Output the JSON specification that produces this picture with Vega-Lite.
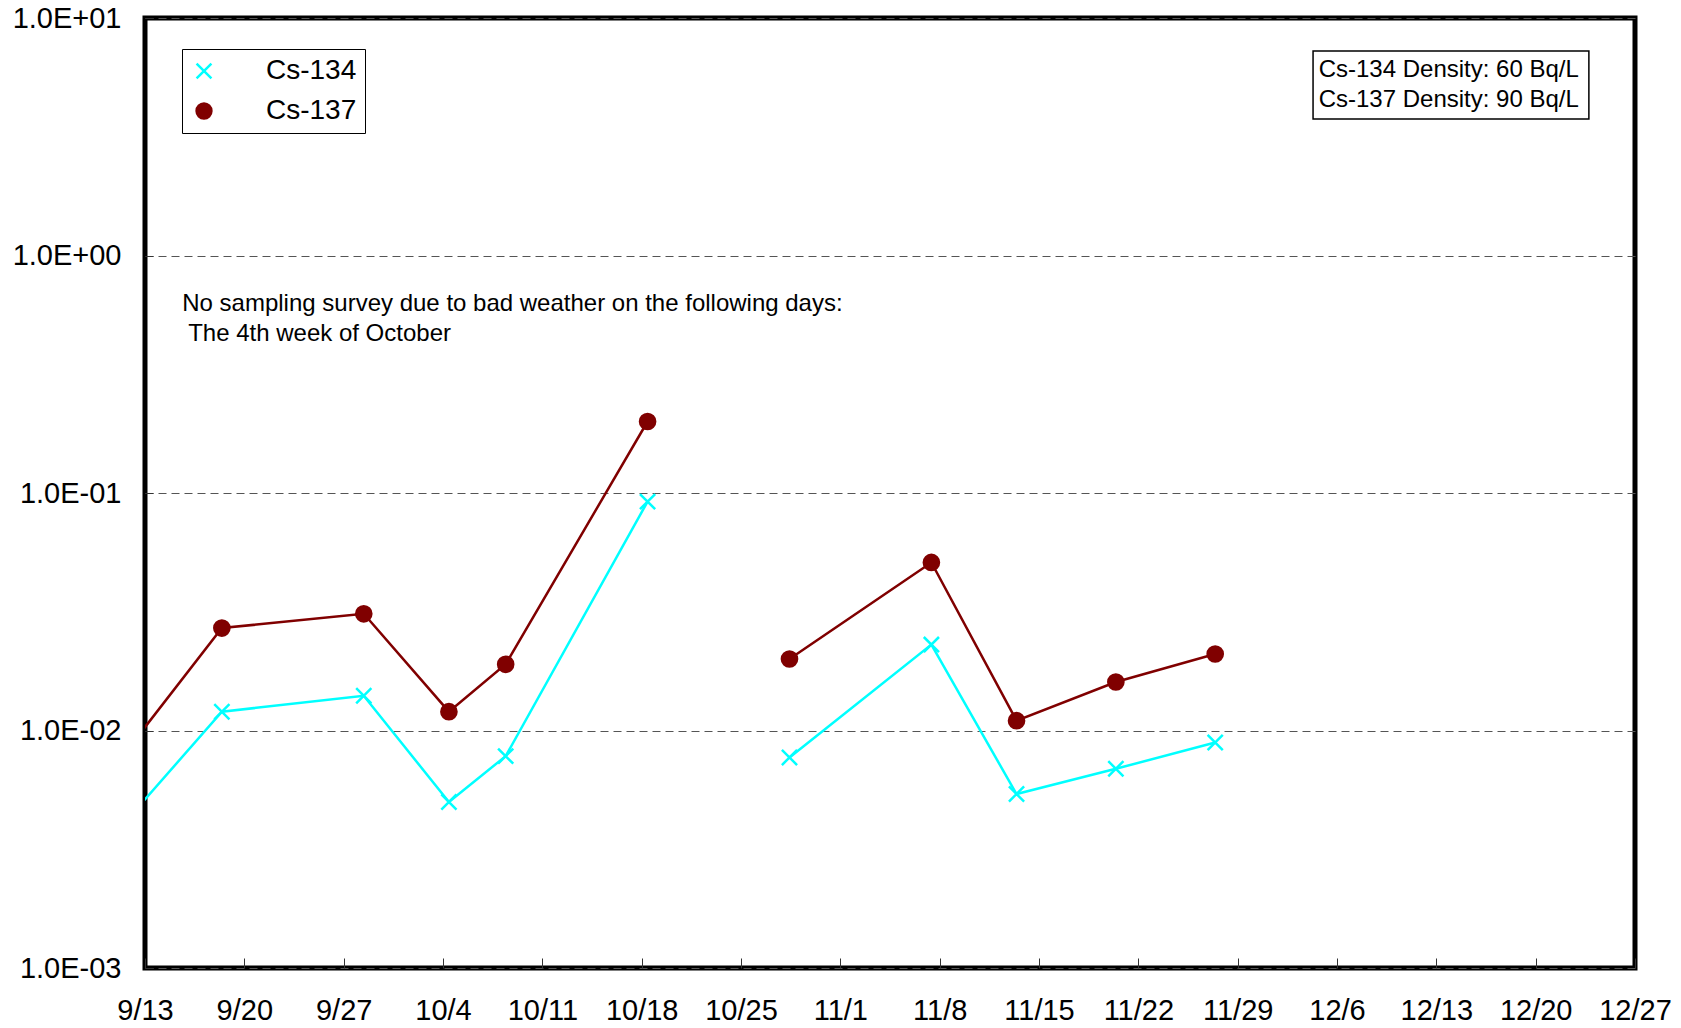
{
  "$schema": "https://vega.github.io/schema/vega-lite/v6.json",
  "width": 1490,
  "height": 950,
  "autosize": {"type": "none"},
  "padding": {"left": 145, "top": 18, "right": 46, "bottom": 60},
  "background": "white",
  "config": {
    "view": {"stroke": "black", "strokeWidth": 5},
    "font": "Liberation Sans",
    "legend": {
      "title": null,
      "orient": "none",
      "legendX": 37,
      "legendY": 31,
      "strokeColor": "black",
      "fillColor": "white",
      "padding": 8,
      "labelFontSize": 28,
      "labelFont": "Liberation Sans",
      "labelColor": "black",
      "symbolSize": 220,
      "symbolStrokeWidth": 2.5,
      "labelOffset": 48,
      "rowPadding": 12
    }
  },
  "data": {
    "values": [
      {"date": "2012-09-11T10:00", "nuclide": "Cs-134", "value": 0.0040, "seg": "a"},
      {"date": "2012-09-18T10:00", "nuclide": "Cs-134", "value": 0.012, "seg": "a"},
      {"date": "2012-09-28T10:00", "nuclide": "Cs-134", "value": 0.014, "seg": "a"},
      {"date": "2012-10-04T10:00", "nuclide": "Cs-134", "value": 0.0050, "seg": "a"},
      {"date": "2012-10-08T10:00", "nuclide": "Cs-134", "value": 0.0078, "seg": "a"},
      {"date": "2012-10-18T10:00", "nuclide": "Cs-134", "value": 0.092, "seg": "a"},
      {"date": "2012-10-28T10:00", "nuclide": "Cs-134", "value": 0.0077, "seg": "b"},
      {"date": "2012-11-07T10:00", "nuclide": "Cs-134", "value": 0.023, "seg": "b"},
      {"date": "2012-11-13T10:00", "nuclide": "Cs-134", "value": 0.0054, "seg": "b"},
      {"date": "2012-11-20T10:00", "nuclide": "Cs-134", "value": 0.0069, "seg": "b"},
      {"date": "2012-11-27T10:00", "nuclide": "Cs-134", "value": 0.0089, "seg": "b"},
      {"date": "2012-09-11T10:00", "nuclide": "Cs-137", "value": 0.0078, "seg": "a"},
      {"date": "2012-09-18T10:00", "nuclide": "Cs-137", "value": 0.027, "seg": "a"},
      {"date": "2012-09-28T10:00", "nuclide": "Cs-137", "value": 0.031, "seg": "a"},
      {"date": "2012-10-04T10:00", "nuclide": "Cs-137", "value": 0.012, "seg": "a"},
      {"date": "2012-10-08T10:00", "nuclide": "Cs-137", "value": 0.019, "seg": "a"},
      {"date": "2012-10-18T10:00", "nuclide": "Cs-137", "value": 0.20, "seg": "a"},
      {"date": "2012-10-28T10:00", "nuclide": "Cs-137", "value": 0.020, "seg": "b"},
      {"date": "2012-11-07T10:00", "nuclide": "Cs-137", "value": 0.051, "seg": "b"},
      {"date": "2012-11-13T10:00", "nuclide": "Cs-137", "value": 0.011, "seg": "b"},
      {"date": "2012-11-20T10:00", "nuclide": "Cs-137", "value": 0.016, "seg": "b"},
      {"date": "2012-11-27T10:00", "nuclide": "Cs-137", "value": 0.021, "seg": "b"}
    ]
  },
  "encoding": {
    "x": {
      "field": "date",
      "type": "temporal",
      "scale": {"domain": [{"year": 2012, "month": 9, "date": 13}, {"year": 2012, "month": 12, "date": 27}]},
      "axis": {
        "title": null,
        "values": [
          {"year": 2012, "month": 9, "date": 13},
          {"year": 2012, "month": 9, "date": 20},
          {"year": 2012, "month": 9, "date": 27},
          {"year": 2012, "month": 10, "date": 4},
          {"year": 2012, "month": 10, "date": 11},
          {"year": 2012, "month": 10, "date": 18},
          {"year": 2012, "month": 10, "date": 25},
          {"year": 2012, "month": 11, "date": 1},
          {"year": 2012, "month": 11, "date": 8},
          {"year": 2012, "month": 11, "date": 15},
          {"year": 2012, "month": 11, "date": 22},
          {"year": 2012, "month": 11, "date": 29},
          {"year": 2012, "month": 12, "date": 6},
          {"year": 2012, "month": 12, "date": 13},
          {"year": 2012, "month": 12, "date": 20},
          {"year": 2012, "month": 12, "date": 27}
        ],
        "format": "%-m/%-d",
        "grid": false,
        "domain": false,
        "tickSize": -10,
        "tickColor": "#333333",
        "tickWidth": 1,
        "labelFontSize": 29,
        "labelColor": "black",
        "labelFont": "Liberation Sans",
        "labelBaseline": "middle",
        "labelPadding": 52,
        "labelOverlap": false,
        "labelFlush": false
      }
    },
    "y": {
      "field": "value",
      "type": "quantitative",
      "scale": {"type": "log", "domain": [0.001, 10], "nice": false},
      "axis": {
        "title": null,
        "values": [0.001, 0.01, 0.1, 1, 10],
        "labelExpr": "'1.0E' + (datum.value >= 1 ? '+' : '-') + '0' + abs(round(log(datum.value) / LN10))",
        "grid": true,
        "gridDash": [8, 5],
        "gridColor": "#555555",
        "gridWidth": 1,
        "domain": false,
        "tickSize": -8,
        "tickColor": "#333333",
        "tickWidth": 1,
        "labelFontSize": 29,
        "labelColor": "black",
        "labelFont": "Liberation Sans",
        "labelPadding": 32,
        "labelOverlap": false,
        "labelFlush": false
      }
    }
  },
  "layer": [
    {
      "mark": {"type": "line", "clip": true, "strokeWidth": 2.5},
      "encoding": {
        "stroke": {
          "field": "nuclide",
          "type": "nominal",
          "scale": {"domain": ["Cs-134", "Cs-137"], "range": ["#00FFFF", "#800000"]}
        },
        "detail": {"field": "seg"}
      }
    },
    {
      "mark": {"type": "point", "clip": true, "size": 230, "strokeWidth": 2.5, "opacity": 1},
      "encoding": {
        "stroke": {
          "field": "nuclide",
          "type": "nominal",
          "scale": {"domain": ["Cs-134", "Cs-137"], "range": ["#00FFFF", "#800000"]}
        },
        "fill": {
          "field": "nuclide",
          "type": "nominal",
          "scale": {"domain": ["Cs-134", "Cs-137"], "range": ["rgba(0,0,0,0)", "#800000"]}
        },
        "shape": {
          "field": "nuclide",
          "type": "nominal",
          "scale": {"domain": ["Cs-134", "Cs-137"], "range": ["M-1,-1L1,1M-1,1L1,-1", "circle"]}
        }
      }
    },
    {
      "transform": [{"filter": "datum.nuclide === 'Cs-134' && datum.value === 0.004"}],
      "mark": {"type": "rect", "fill": "white", "stroke": "black", "strokeWidth": 1.5},
      "encoding": {
        "x": {"datum": {"year": 2012, "month": 12, "date": 4, "hours": 7, "minutes": 30}},
        "x2": {"datum": {"year": 2012, "month": 12, "date": 23, "hours": 18}},
        "y": {"datum": 7.26},
        "y2": {"datum": 3.755}
      }
    },
    {
      "transform": [{"filter": "datum.nuclide === 'Cs-134' && datum.value === 0.004"}],
      "mark": {"type": "text", "align": "left", "baseline": "middle", "fontSize": 24, "font": "Liberation Sans", "fill": "black"},
      "encoding": {
        "x": {"datum": {"year": 2012, "month": 12, "date": 4, "hours": 17}},
        "y": {"datum": 6.06},
        "text": {"value": "Cs-134 Density: 60 Bq/L"}
      }
    },
    {
      "transform": [{"filter": "datum.nuclide === 'Cs-134' && datum.value === 0.004"}],
      "mark": {"type": "text", "align": "left", "baseline": "middle", "fontSize": 24, "font": "Liberation Sans", "fill": "black"},
      "encoding": {
        "x": {"datum": {"year": 2012, "month": 12, "date": 4, "hours": 17}},
        "y": {"datum": 4.53},
        "text": {"value": "Cs-137 Density: 90 Bq/L"}
      }
    },
    {
      "transform": [{"filter": "datum.nuclide === 'Cs-134' && datum.value === 0.004"}],
      "mark": {"type": "text", "align": "left", "baseline": "middle", "fontSize": 24, "font": "Liberation Sans", "fill": "black"},
      "encoding": {
        "x": {"datum": {"year": 2012, "month": 9, "date": 15, "hours": 15}},
        "y": {"datum": 0.627},
        "text": {"value": "No sampling survey due to bad weather on the following days:"}
      }
    },
    {
      "transform": [{"filter": "datum.nuclide === 'Cs-134' && datum.value === 0.004"}],
      "mark": {"type": "text", "align": "left", "baseline": "middle", "fontSize": 24, "font": "Liberation Sans", "fill": "black"},
      "encoding": {
        "x": {"datum": {"year": 2012, "month": 9, "date": 16, "hours": 1}},
        "y": {"datum": 0.468},
        "text": {"value": "The 4th week of October"}
      }
    }
  ]
}
